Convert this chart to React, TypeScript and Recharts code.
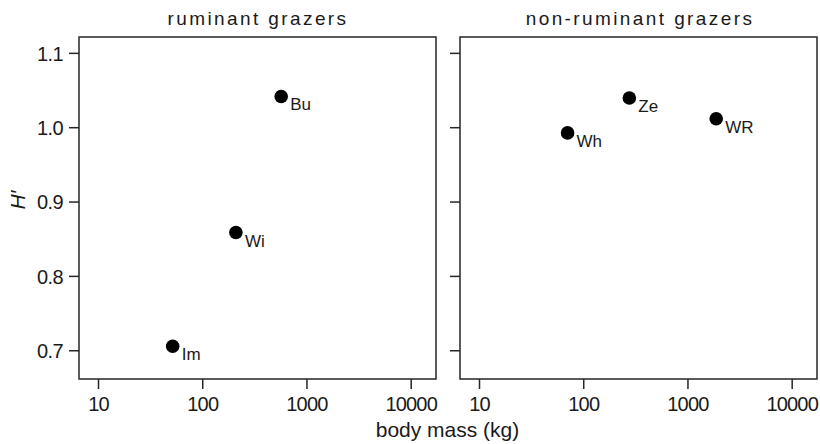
import React from "react";
import { ScatterChart, Scatter, XAxis, YAxis, ReferenceArea } from "recharts";

// body mass (kg) and H'
const ruminantNames = ["Im", "Wi", "Bu"];
const ruminantMass = [51.5, 208, 566];
const ruminantH = [0.706, 0.859, 1.042];

const nonRuminantNames = ["Wh", "Ze", "WR"];
const nonRuminantMass = [70, 274, 1867];
const nonRuminantH = [0.993, 1.04, 1.012];

const xTicks = [10, 100, 1000, 10000];
const yTicks = [0.7, 0.8, 0.9, 1.0, 1.1];

const X_DOMAIN: [number, number] = [6.5, 17300];
const Y_DOMAIN: [number, number] = [0.662, 1.122];

const FONT = "'Liberation Sans', Arial, Helvetica, sans-serif";
const INK = "#1a1a1a";
const LINE = "#262626";

const toRows = (names: string[], mass: number[], h: number[]) =>
  names.map((name, i) => ({ name, mass: mass[i], h: h[i] }));

function Dot(props: any) {
  const { cx, cy, payload } = props;
  if (cx == null || cy == null) return null;
  return (
    <g>
      <circle cx={cx} cy={cy} r={6.8} fill="#000" />
      <text x={cx + 9} y={cy + 14} fontSize={17} fontFamily={FONT} fill={INK}>
        {payload.name}
      </text>
    </g>
  );
}

// tick text is a touch taller and tighter than plain Arial in the original
function XTick(props: any) {
  const { x, y, payload } = props;
  return (
    <text
      x={x}
      y={y}
      dy="0.71em"
      textAnchor="middle"
      fontSize={20}
      letterSpacing={-0.8}
      fontFamily={FONT}
      fill={INK}
    >
      {payload.value}
    </text>
  );
}

function YTick(props: any) {
  const { x, y, payload, show } = props;
  if (!show) return null;
  return (
    <text
      x={x}
      y={y}
      dy="0.36em"
      textAnchor="end"
      fontSize={20}
      letterSpacing={-0.6}
      fontFamily={FONT}
      fill={INK}
    >
      {Number(payload.value).toFixed(1)}
    </text>
  );
}

function Panel({
  rows,
  width,
  yAxisWidth,
  right,
  showYLabels,
}: {
  rows: { name: string; mass: number; h: number }[];
  width: number;
  yAxisWidth: number;
  right: number;
  showYLabels: boolean;
}) {
  return (
    <ScatterChart
      width={width}
      height={444}
      margin={{ top: 37, right, bottom: 25, left: 0 }}
    >
      <XAxis
        dataKey="mass"
        type="number"
        scale="log"
        domain={X_DOMAIN}
        allowDataOverflow
        ticks={xTicks}
        interval={0}
        tick={<XTick />}
        tickSize={10}
        tickMargin={8}
        tickLine={{ stroke: LINE, strokeWidth: 1.5 }}
        axisLine={false}
        height={40}
      />
      <YAxis
        dataKey="h"
        type="number"
        domain={Y_DOMAIN}
        allowDataOverflow
        ticks={yTicks}
        interval={0}
        tick={<YTick show={showYLabels} />}
        tickSize={10}
        tickMargin={6}
        tickLine={{ stroke: LINE, strokeWidth: 1.5 }}
        axisLine={false}
        width={yAxisWidth}
      />
      <ReferenceArea
        x1={X_DOMAIN[0]}
        x2={X_DOMAIN[1]}
        y1={Y_DOMAIN[0]}
        y2={Y_DOMAIN[1]}
        fill="none"
        stroke={LINE}
        strokeWidth={1.5}
        ifOverflow="visible"
      />
      <Scatter data={rows} shape={<Dot />} isAnimationActive={false} />
    </ScatterChart>
  );
}

export default function App() {
  return (
    <div
      style={{
        position: "absolute",
        left: 0,
        top: 0,
        width: 820,
        height: 444,
        background: "#fff",
      }}
    >
      <div style={{ position: "absolute", left: 0, top: 0 }}>
        <Panel
          rows={toRows(ruminantNames, ruminantMass, ruminantH)}
          width={440}
          yAxisWidth={79}
          right={4}
          showYLabels
        />
      </div>
      <div style={{ position: "absolute", left: 440, top: 0 }}>
        <Panel
          rows={toRows(nonRuminantNames, nonRuminantMass, nonRuminantH)}
          width={380}
          yAxisWidth={20}
          right={3}
          showYLabels={false}
        />
      </div>
      <svg
        width={820}
        height={444}
        style={{ position: "absolute", left: 0, top: 0, pointerEvents: "none" }}
      >
        <g fontFamily={FONT} fill={INK}>
          <text x={258} y={25} fontSize={19} letterSpacing={2.4} textAnchor="middle">
            ruminant grazers
          </text>
          <text x={640} y={25} fontSize={19} letterSpacing={2.4} textAnchor="middle">
            non-ruminant grazers
          </text>
          <text x={447.5} y={437} fontSize={21} textAnchor="middle">
            body mass (kg)
          </text>
          <text
            x={0}
            y={0}
            fontSize={21}
            fontStyle="italic"
            textAnchor="middle"
            transform="translate(25,200) rotate(-90)"
          >
            H′
          </text>
        </g>
      </svg>
    </div>
  );
}
